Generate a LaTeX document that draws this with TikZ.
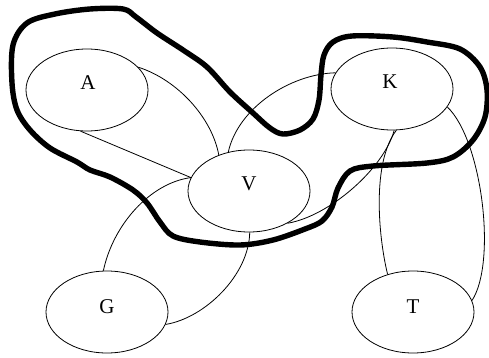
\documentclass[tikz,border=0pt]{standalone}
\usepackage{fontspec}
\setmainfont{Liberation Serif}
\usetikzlibrary{shapes.geometric}
\begin{document}
\begin{tikzpicture}[x=1pt,y=-1pt,
  ell/.style={draw, ellipse, line width=0.8pt, inner sep=0pt, minimum width=122pt, minimum height=82pt},
  lab/.style={font=\fontsize{21}{22}\selectfont, inner sep=0pt},
  thin/.style={line width=0.8pt},
  blob/.style={line width=5.4pt, line join=round}]
\useasboundingbox (0,0) rectangle (489,358);
\node[ell] (A) at (87,90) {};
\node[ell] (K) at (392,89) {};
\node[ell] (V) at (249,191) {};
\node[ell] (G) at (107,312) {};
\node[ell] (T) at (413,312) {};
\node[lab] (lA) at (88,83) {A};
\node[lab] (lK) at (390,82) {K};
\node[lab] (lV) at (249,184) {V};
\node[lab] (lG) at (107,307) {G};
\node[lab] (lT) at (413,307) {T};
% edges
\draw[thin] (A.24) .. controls (178,80) and (212,118) .. (V.130);
\draw[thin] (A.261) -- (V.167);
\draw[thin] (G.95) .. controls (113,225) and (150,183) .. (V.167);
\draw[thin] (V.-89) .. controls (249,275) and (205,318) .. (G.-12);
\draw[thin] (V.118) .. controls (238,108) and (290,74) .. (K.164);
\draw[thin] (K.-87) .. controls (384,168) and (330,216) .. (V.-40);
\draw[thin] (K.-84) .. controls (372,162) and (378,235) .. (T.124);
\draw[thin] (K.-18) .. controls (482,140) and (497,262) .. (T.11);
% thick closed curve
\draw[blob] plot[smooth cycle, tension=0.55] coordinates {
 (13,45) (27,23) (55,14) (90,9) (123,9) (136,17) (157,33) (183,50) (207,67)
 (230,92) (253,113) (270,128) (283,134) (300,130) (313,119) (319,100)
 (321,75) (324,55) (333,42) (352,36) (393,37) (427,42) (460,49) (480,67)
 (487,90) (485,117) (473,140) (453,157) (427,163) (373,166) (350,171)
 (338,188) (332,207) (322,221) (305,229) (273,240) (240,245) (200,242)
 (173,236) (160,222) (147,203) (133,190) (110,177) (90,170) (77,162)
 (50,148) (30,130) (17,110) (12,83)};
\end{tikzpicture}
\end{document}
